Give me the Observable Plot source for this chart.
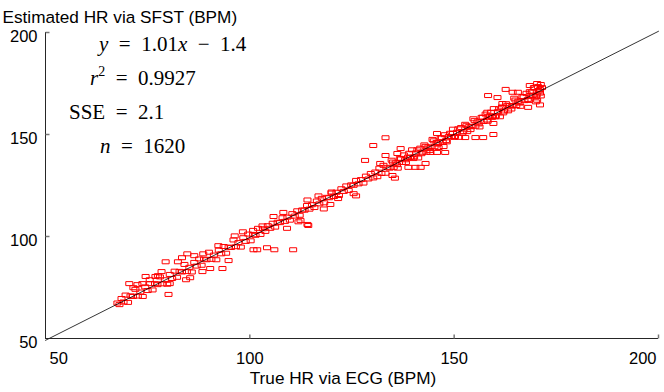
<!DOCTYPE html>
<html>
<head>
<meta charset="utf-8">
<script src="https://cdn.jsdelivr.net/npm/d3@7"></script>
<script src="https://cdn.jsdelivr.net/npm/@observablehq/plot@0.6"></script>
<style>
  html, body { margin: 0; padding: 0; background: #fff; }
  #chart svg { display: block; }
</style>
</head>
<body>
<div id="chart"></div>
<script>
// ---------- data ----------
const xTicks = [50, 100, 150, 200];
const yTicks = [50, 100, 150, 200];
const xLabel = "True HR via ECG (BPM)";
const yLabel = "Estimated HR via SFST (BPM)";

// fitted line end points: y = 1.01x - 1.4
const fitX = [50, 200];
const fitY = [49.1, 200.6];

// [true HR via ECG, estimated HR via SFST]
const bandLow = [
  [67.6,67.4],[68.1,66.6],[68.6,69.6],[69.1,67.9],[69.6,71.3],[70.2,67.7],[70.8,70.9],[71.4,70.6],
  [72.0,74.1],[72.6,70.8],[73.2,72.8],[73.8,70.6],[74.4,75.3],[75.0,73.5],[75.6,76.9],[76.2,73.8],
  [76.8,76.9],[77.4,76.4],[78.0,80.2],[78.6,76.8],[79.2,78.8],[79.8,76.6],[80.4,81.4],[81.0,79.4],
  [81.6,83.0],[82.2,80.0],[82.8,82.9],[83.4,82.6],[84.0,86.3],[84.6,82.8],[85.2,84.9],[85.8,82.6],
  [86.4,87.3],[87.0,85.5],[87.6,89.0],[88.2,85.9],[88.8,88.9],[89.4,88.6],[90.0,92.3],[90.6,88.8],
  [91.2,90.9],[91.8,88.6],[92.4,93.3],[93.0,91.5],[93.6,95.1],[94.2,91.8],[94.8,94.8],[95.4,94.6],
  [96.0,98.3],[96.6,95.0],[97.2,97.0],[97.8,94.8],[98.4,99.4],[99.0,97.6],[99.6,101.2],[100.2,97.9],
  [100.8,100.8],[101.4,100.6],[102.0,104.0],[102.6,101.0]
];
const bandMid = [
  [103.2,103.8],[103.8,102.5],[104.4,105.3],[105.0,104.0],[105.6,106.5],[106.2,104.6],[106.8,107.0],
  [107.4,106.8],[108.0,109.2],[108.6,107.4],[109.2,109.5],[109.8,108.0],[110.4,111.2],[111.0,110.0],
  [111.6,112.6],[112.2,110.4],[112.8,113.0],[113.4,112.9],[114.0,115.2],[114.6,113.4],[115.2,115.6],
  [115.8,114.2],[116.4,117.4],[117.0,116.0],[117.6,118.7],[118.2,116.5],[118.8,119.2],[119.4,119.0],
  [120.0,121.3],[120.6,119.6],[121.2,121.7],[121.8,120.1],[122.4,123.4],[123.0,122.1],[123.6,124.8],
  [124.2,122.6],[124.8,125.3],[125.4,125.1],[126.0,127.5],[126.6,125.8],[127.2,127.9],[127.8,126.2],
  [128.4,129.6],[129.0,128.2],[129.6,130.9],[130.2,128.7]
];
const bandHigh = [
  [130.7,131.6],[131.2,129.3],[131.7,133.5],[132.2,130.9],[132.7,134.9],[133.2,131.0],[133.7,133.9],
  [134.2,133.5],[134.7,137.4],[135.2,133.9],[135.7,136.1],[136.2,133.5],[136.7,138.3],[137.2,136.3],
  [137.7,140.0],[138.2,136.3],[138.7,138.9],[139.2,138.7],[139.7,142.5],[140.2,139.0],[140.7,141.0],
  [141.2,138.5],[141.7,143.3],[142.2,141.3],[142.7,144.9],[143.2,141.3],[143.7,143.9],[144.2,143.7],
  [144.7,147.6],[145.2,144.0],[145.7,146.1],[146.2,143.6],[146.7,148.3],[147.2,146.3],[147.7,149.9],
  [148.2,146.4],[148.7,149.0],[149.2,148.8],[149.7,152.6],[150.2,149.0],[150.7,151.1],[151.2,148.6],
  [151.7,153.4],[152.2,151.4],[152.7,155.0],[153.2,151.4],[153.7,154.0],[154.2,153.8],[154.7,157.7],
  [155.2,154.1],[155.7,156.2],[156.2,153.7],[156.7,158.4],[157.2,156.4],[157.7,160.0],[158.2,156.5],
  [158.7,159.1],[159.2,158.9],[159.7,162.7],[160.2,159.1],[160.7,161.2],[161.2,158.7],[161.7,163.5],
  [162.2,161.5],[162.7,165.1],[163.2,161.6],[163.7,164.2],[164.2,163.9],[164.7,167.8],[165.2,164.2],
  [165.7,166.3],[166.2,163.8],[166.7,168.6],[167.2,166.6],[167.7,170.2],[168.2,166.7],[168.7,169.3],
  [169.2,169.1],[169.7,172.9],[170.2,169.4],[170.7,171.4],[171.2,168.9],[171.5,173.0],[171.0,172.0],
  [170.5,173.5],[171.2,174.5],[169.5,173.0],[168.5,171.0],[170.0,166.0],[171.0,164.5]
];
const bandHigh2 = [
  [135.0,136.5],[136.0,135.2],[137.0,138.0],[138.0,137.6],[139.0,140.8],[140.0,138.2],[141.0,142.5],
  [142.0,140.6],[143.0,144.2],[144.0,142.2],[145.0,146.9],[146.0,145.3],[147.0,148.4],[148.0,147.0],
  [149.0,150.6],[150.0,148.6],[151.0,152.8],[152.0,150.7],[153.0,154.3],[154.0,152.4],[155.0,156.8],
  [156.0,155.2],[157.0,158.5],[158.0,157.1],[159.0,160.9],[160.0,158.7],[161.0,162.6],[162.0,160.6],
  [163.0,164.3],[164.0,162.5],[165.0,166.9],[166.0,165.4],[167.0,168.4],[168.0,167.2],[169.0,170.8],
  [170.0,168.5],[171.0,170.3]
];
const outliers = [
  [70.5,76.9],[73.7,76.9],[74.5,80.4],[76.9,80.4],[80.1,71.6],[80.4,76.9],[79.4,87.6],[82.4,87.6],
  [84.7,91.5],[84.4,78.8],[88.6,91.5],[90.3,84.3],[93.3,84.3],[94.8,88.2],[83.4,89.6],[86.4,90.6],
  [71.5,74.9],[75.5,78.8],[78.4,82.8],[77.5,80.8],[72.5,76.4],[92.3,95.5],[96.3,100.3],[98.3,102.3],
  [100.9,93.5],[101.8,93.5],[104.2,94.5],[106.0,93.5],[110.6,93.5],[109.1,104.0],[111.9,107.2],
  [114.1,105.9],[112.4,107.9],[114.3,105.4],[100.8,103.0],[103.1,105.2],[105.8,109.8],[108.2,111.8],
  [114.1,117.9],[116.8,119.9],[120.0,121.8],[121.6,118.6],[125.4,121.0],[133.2,148.4],[130.2,144.6],
  [136.9,143.1],[133.2,139.7],[128.2,137.3],[136.1,140.7],[131.9,135.8],[134.9,129.9],[135.5,128.6],
  [138.8,133.9],[140.5,133.9],[141.8,133.9],[143.0,135.8],[144.2,141.2],[145.8,141.2],[147.8,141.2],
  [145.8,150.5],[149.7,150.5],[147.4,144.1],[152.7,148.5],[155.2,148.5],[157.1,148.5],[159.6,150.0],
  [159.6,155.4],[158.3,169.1],[160.6,168.1],[162.6,172.1],[164.3,170.7],[165.6,170.7],[161.8,165.2],
  [158.1,160.9],[159.3,158.4],[168.1,163.3],[168.5,174.0],[170.3,175.0],[170.3,166.8],[119.7,115.7],
  [126.0,119.9],[118.1,113.5],[88.4,82.8],[85.4,79.8]
];

// annotation lines: [text, style] pieces ("i" italic, "n" normal, "s" superscript)
const annoLine1 = [["y","i"],["\u2002=\u20021.01","n"],["x","i"],["\u2002\u2212\u20021.4","n"]];
const annoLine2 = [["r","i"],["2","s"],["\u2002=\u20020.9927","n"]];
const annoLine3 = [["SSE","n"],["\u2002=\u20022.1","n"]];
const annoLine4 = [["n","i"],["\u2002=\u20021620","n"]];

// ---------- drawing ----------
const points = [...bandLow, ...bandMid, ...bandHigh, ...bandHigh2, ...outliers];
const fitLine = fitX.map((x, i) => ({x, y: fitY[i]}));

const box = {draw(ctx) { ctx.rect(-3.5, -2, 7, 4); }};
const tickRight = {draw(ctx) { ctx.moveTo(0, 0); ctx.lineTo(4, 0); }};
const tickUp = {draw(ctx) { ctx.moveTo(0, 0); ctx.lineTo(0, -4); }};

const sans = "'Liberation Sans', Arial, Helvetica, sans-serif";
const axisColor = "#262626";

const chart = Plot.plot({
  width: 664,
  height: 392,
  marginLeft: 45,
  marginRight: 6,
  marginTop: 32,
  marginBottom: 54,
  style: {fontFamily: sans, fontSize: "16px", background: "#fff", overflow: "visible"},
  x: {domain: [50, 200], axis: null},
  y: {domain: [50, 200], axis: null},
  marks: [
    Plot.dot(points, {x: d => d[0], y: d => d[1], symbol: box, fill: "none", stroke: "#ff0000", strokeWidth: 1}),
    Plot.line(fitLine, {x: "x", y: "y", stroke: "#000", strokeWidth: 0.8}),
    Plot.ruleX([xTicks[0]], {stroke: axisColor, strokeWidth: 1}),
    Plot.ruleY([yTicks[0]], {stroke: axisColor, strokeWidth: 1}),
    Plot.dot(yTicks.slice(1), {x: () => xTicks[0], y: d => d, symbol: tickRight, fill: "none", stroke: "#777"}),
    Plot.dot(xTicks.slice(1), {x: d => d, y: () => yTicks[0], symbol: tickUp, fill: "none", stroke: "#777"}),
    Plot.text(yTicks, {x: () => xTicks[0], y: d => d, text: d => `${d}`, textAnchor: "end", dx: -8, dy: 4, fontSize: 16.5, fill: "#000"}),
    Plot.text(xTicks.slice(0, 1), {x: d => d, y: () => yTicks[0], text: d => `${d}`, textAnchor: "start", dx: 4, dy: 20, fontSize: 16.5, fill: "#000"}),
    Plot.text(xTicks.slice(1, -1), {x: d => d, y: () => yTicks[0], text: d => `${d}`, textAnchor: "middle", dy: 20, fontSize: 16.5, fill: "#000"}),
    Plot.text(xTicks.slice(-1), {x: d => d, y: () => yTicks[0], text: d => `${d}`, textAnchor: "end", dx: -2, dy: 20, fontSize: 16.5, fill: "#000"}),
    Plot.text([xLabel], {frameAnchor: "bottom", text: d => d, dx: -9, dy: 45, fontSize: 17.2, fill: "#000"}),
    Plot.text([yLabel], {frameAnchor: "top-left", text: d => d, textAnchor: "start", dx: -43, dy: -22, fontSize: 17.2, fill: "#000"})
  ]
});

document.getElementById("chart").appendChild(chart);

// annotation block (LaTeX-like text in the upper-left corner)
const svg = d3.select(chart);
const annoLayout = [
  {parts: annoLine1, x: 99, y: 51},
  {parts: annoLine2, x: 90, y: 85},
  {parts: annoLine3, x: 69, y: 119},
  {parts: annoLine4, x: 100, y: 153}
];
annoLayout.forEach(({parts, x, y}) => {
  const t = svg.append("text")
    .attr("x", x).attr("y", y)
    .attr("fill", "#000")
    .attr("text-anchor", "start")
    .style("font-family", "'Liberation Serif', 'Times New Roman', serif")
    .style("font-size", "21px");
  let shifted = false;
  parts.forEach(([txt, kind]) => {
    const s = t.append("tspan").text(txt);
    if (kind === "i") s.style("font-style", "italic");
    if (kind === "s") { s.attr("dy", -9).style("font-size", "14px"); shifted = true; }
    else if (shifted) { s.attr("dy", 9); shifted = false; }
  });
});
</script>
</body>
</html>
